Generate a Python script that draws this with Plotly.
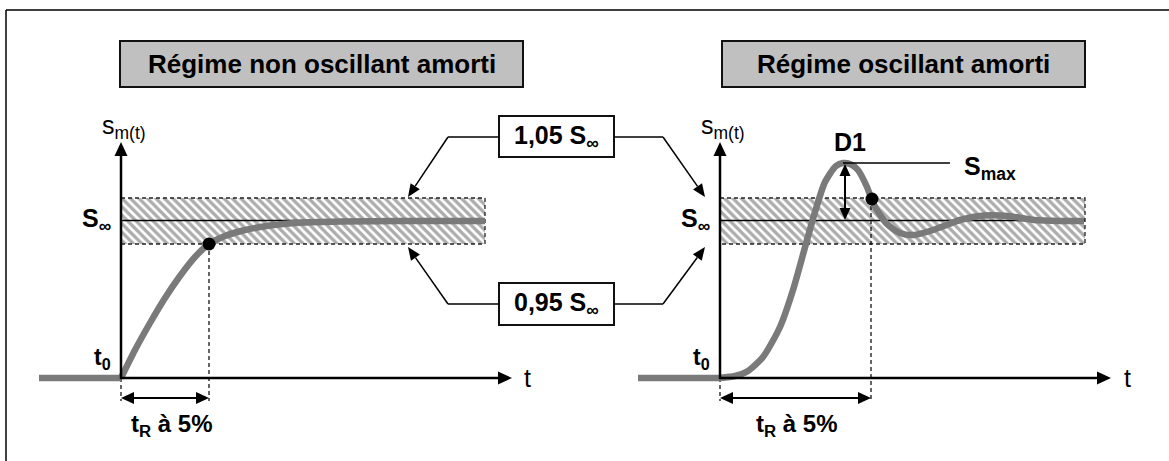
import math
import plotly.graph_objects as go

# ---------------- data (drawing units: pixels of the 1169x461 picture) ----------------
# Left panel: non-oscillating damped response
left_flat_t = [39, 121]
left_flat_s = [378, 378]
left_rise_t = [121, 135, 150, 165, 180, 195, 209, 225, 245, 270, 300, 340, 400, 485]
left_rise_s = [378, 350, 323, 298, 276, 257, 244, 236, 230, 225.5, 222.8, 221.6, 221, 221]
left_t5 = [209]
left_s5 = [244]

# Right panel: oscillating damped response
right_flat_t = [638, 720]
right_flat_s = [378, 378]
right_rise_t = [720, 735, 748, 763, 780, 793, 807, 815, 825, 836, 843, 850, 858,
                867, 874, 887, 900, 914, 933, 960, 984, 1008, 1034, 1060, 1084]
right_rise_s = [378, 376, 371, 357, 327, 290, 240, 212, 182, 166, 163, 164, 170,
                187, 205, 224, 233, 235, 230, 220, 215.5, 216, 220, 221, 221]
right_t5 = [872]
right_s5 = [199]

# tolerance band (schematic)
band_hi = 198
band_lo = 244
s_inf = 220.5
left_band_x = [121, 485]
right_band_x = [720, 1085]

titles = ["Régime non oscillant amorti", "Régime oscillant amorti"]
band_labels = ["1,05 S<sub>∞</sub>", "0,95 S<sub>∞</sub>"]

FONT = "Liberation Sans, Arial, sans-serif"
CURVE = "#7a7a7a"

fig = go.Figure()

# hatched bands
for (x0, x1) in (left_band_x, right_band_x):
    fig.add_trace(go.Scatter(
        x=[x0, x1, x1, x0, x0], y=[band_hi, band_hi, band_lo, band_lo, band_hi],
        fill="toself", mode="lines", line=dict(width=0),
        fillcolor="rgba(0,0,0,0)",
        fillpattern=dict(shape="\\", fgcolor="#5a5a5a", bgcolor="white",
                         size=6, solidity=0.55),
        hoverinfo="skip", showlegend=False))
    fig.add_trace(go.Scatter(x=[x0, x1], y=[s_inf, s_inf], mode="lines",
                             line=dict(color="black", width=1.5),
                             hoverinfo="skip", showlegend=False))
    fig.add_trace(go.Scatter(x=[x0, x1, x1, x0], y=[band_hi, band_hi, band_lo, band_lo],
                             mode="lines", line=dict(color="#222", width=1.3, dash="4px,3px"),
                             hoverinfo="skip", showlegend=False))

# dashed verticals for t_R
for (xv, yv) in ((left_t5[0], left_s5[0]), (right_t5[0] - 1, right_s5[0])):
    fig.add_trace(go.Scatter(x=[xv, xv], y=[yv, 401], mode="lines",
                             line=dict(color="black", width=1.2, dash="4px,3px"),
                             hoverinfo="skip", showlegend=False))
for xv in (121, 720):
    fig.add_trace(go.Scatter(x=[xv, xv], y=[378, 401], mode="lines",
                             line=dict(color="black", width=1.2, dash="4px,3px"),
                             hoverinfo="skip", showlegend=False))

# curves
for ft, fs, rt, rs in ((left_flat_t, left_flat_s, left_rise_t, left_rise_s),
                       (right_flat_t, right_flat_s, right_rise_t, right_rise_s)):
    fig.add_trace(go.Scatter(x=ft, y=fs, mode="lines",
                             line=dict(color=CURVE, width=6.5),
                             hoverinfo="skip", showlegend=False))
    fig.add_trace(go.Scatter(x=rt, y=rs, mode="lines",
                             line=dict(color=CURVE, width=6.5, shape="spline", smoothing=0.7),
                             hoverinfo="skip", showlegend=False))

# S_max reference line
fig.add_trace(go.Scatter(x=[843, 950], y=[163, 163], mode="lines",
                         line=dict(color="black", width=1.3),
                         hoverinfo="skip", showlegend=False))

# 5% points
fig.add_trace(go.Scatter(x=left_t5 + right_t5, y=left_s5 + right_s5, mode="markers",
                         marker=dict(color="black", size=13),
                         hoverinfo="skip", showlegend=False))

shapes = []
shapes.append(dict(type="line", x0=6, y0=461, x1=6, y1=10, line=dict(color="black", width=1.5)))
shapes.append(dict(type="line", x0=6, y0=10, x1=1169, y1=10, line=dict(color="black", width=1.5)))
shapes.append(dict(type="rect", x0=120, y0=41, x1=523, y1=87, fillcolor="#c0c0c0",
                   line=dict(color="#111", width=2)))
shapes.append(dict(type="rect", x0=722, y0=41, x1=1085, y1=87, fillcolor="#c0c0c0",
                   line=dict(color="#111", width=2)))
shapes.append(dict(type="rect", x0=499, y0=116, x1=614, y1=157, fillcolor="white",
                   line=dict(color="#111", width=2)))
shapes.append(dict(type="rect", x0=499, y0=283, x1=614, y1=325, fillcolor="white",
                   line=dict(color="#111", width=2)))
for (xa, xb, yy) in ((448, 499, 137), (614, 663, 137), (448, 499, 304), (614, 663, 304)):
    shapes.append(dict(type="line", x0=xa, y0=yy, x1=xb, y1=yy, line=dict(color="black", width=1.5)))


def head(tx, ty, fx, fy, L, W):
    dx, dy = tx - fx, ty - fy
    n = math.hypot(dx, dy)
    ux, uy = dx / n, dy / n
    bx, by = tx - L * ux, ty - L * uy
    px, py = -uy * W / 2, ux * W / 2
    shapes.append(dict(type="path",
                       path="M %.2f,%.2f L %.2f,%.2f L %.2f,%.2f Z" % (tx, ty, bx + px, by + py, bx - px, by - py),
                       fillcolor="black", line=dict(width=0)))
    return bx, by


def arrow(x, y, ax, ay, w=2.0, L=13, W=11, both=False):
    ex, ey = head(x, y, ax, ay, L, W)
    sx, sy = ax, ay
    if both:
        sx, sy = head(ax, ay, x, y, L, W)
    shapes.append(dict(type="line", x0=sx, y0=sy, x1=ex, y1=ey, line=dict(color="black", width=w)))


# axes
arrow(121, 142, 121, 379, w=2.5, L=14, W=13)
arrow(512, 378, 120, 378, w=2.5, L=14, W=13)
arrow(720, 142, 720, 379, w=2.5, L=14, W=13)
arrow(1111, 378, 719, 378, w=2.5, L=14, W=13)
# t_R double arrows
arrow(209, 398, 121, 398, w=2, L=13, W=12, both=True)
arrow(871, 398, 720, 398, w=2, L=13, W=12, both=True)
# D1 double arrow
arrow(845, 220, 845, 164, w=2, L=12, W=11, both=True)
# callouts
arrow(408, 197, 448, 137, w=1.5, L=13, W=11)
arrow(705, 197, 663, 137, w=1.5, L=13, W=11)
arrow(408, 247, 448, 304, w=1.5, L=13, W=11)
arrow(705, 247, 663, 304, w=1.5, L=13, W=11)

ann = []


def label(x, y, text, size, bold=True, xanchor="center", yanchor="middle"):
    ann.append(dict(x=x, y=y, xref="x", yref="y", text=("<b>%s</b>" % text) if bold else text,
                    showarrow=False, xanchor=xanchor, yanchor=yanchor,
                    font=dict(family=FONT, size=size, color="black")))


label(321.5, 64, titles[0], 26)
label(903.5, 64, titles[1], 26)
label(556.5, 137, band_labels[0], 25)
label(556.5, 304, band_labels[1], 25)
for x0 in (121, 720):
    label(x0 + 3, 127, "s<sub>m(t)</sub>", 25, bold=False)
    label(x0 - 25, 220, "S<sub>∞</sub>", 25, xanchor="center")
    label(x0 - 8, 358, "t<sub>0</sub>", 23, xanchor="right")
label(527, 378, "t", 25, bold=False)
label(1127, 378, "t", 25, bold=False)
label(172, 425, "t<sub>R</sub> à 5%", 24)
label(797, 425, "t<sub>R</sub> à 5%", 24)
label(850, 142, "D1", 25)
label(962, 168, "S<sub>max</sub>", 25, xanchor="left")

fig.update_layout(
    width=1169, height=461, margin=dict(l=0, r=0, t=0, b=0),
    paper_bgcolor="white", plot_bgcolor="white",
    xaxis=dict(range=[0, 1169], visible=False, fixedrange=True),
    yaxis=dict(range=[461, 0], visible=False, fixedrange=True),
    shapes=shapes, annotations=ann, showlegend=False,
)

fig.write_html("out.html", config={"displayModeBar": False},
               post_script="document.body.style.margin='0';document.body.style.padding='0';")
